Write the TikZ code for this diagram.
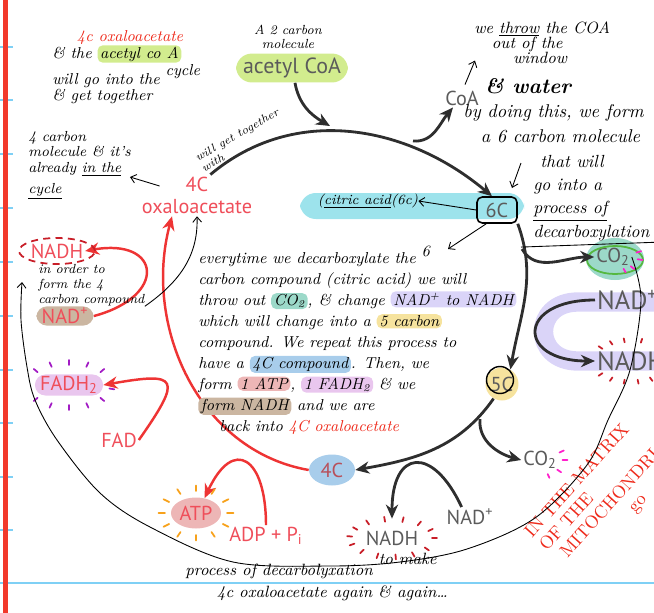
\documentclass[tikz,border=0pt]{standalone}
\usepackage{fontspec}
\newfontfamily\lblfont{PT Sans}
\usetikzlibrary{positioning,calc,shapes.geometric,arrows.meta}

\definecolor{lblred}{HTML}{EF4E5A}
\definecolor{arrred}{HTML}{EE3434}
\definecolor{lblgray}{HTML}{5B5B5B}
\definecolor{arrblk}{HTML}{2E2E2E}
\definecolor{hred}{HTML}{EE2A1B}
\definecolor{c4red}{HTML}{B8505A}
\definecolor{hlgreen}{HTML}{D2EC8E}
\definecolor{hlcyan}{HTML}{9DE3EC}
\definecolor{hlteal}{HTML}{9CD9C9}
\definecolor{hllav}{HTML}{DAD4F8}
\definecolor{hlyel}{HTML}{F6E39E}
\definecolor{hlblue}{HTML}{A8CDEB}
\definecolor{hlpink}{HTML}{EDB6B6}
\definecolor{hlorchid}{HTML}{E9C6EE}
\definecolor{hltan}{HTML}{CBB6A1}
\definecolor{dashmag}{HTML}{FF1FCB}
\definecolor{dashpur}{HTML}{A21CC4}
\definecolor{dashorg}{HTML}{F7A11A}
\definecolor{dashred}{HTML}{C81E28}
\definecolor{ringgreen}{HTML}{55B840}
\definecolor{pagered}{HTML}{F2392B}
\definecolor{pageblue}{HTML}{7FD0F5}

% marker pen highlight inside handwritten lines
\newcommand{\hilite}[2]{\tikz[baseline=(hl.base)]\node[fill=#1,rounded corners=3pt,inner xsep=1.5pt,inner ysep=0.8pt](hl){#2};}

\begin{document}
\begin{tikzpicture}[
    x=0.02cm, y=-0.02cm,
    cyc/.style={draw=arrblk, line width=1.6pt, -{Stealth[length=8pt,width=7pt]}},
    redcyc/.style={draw=arrred, line width=1.4pt, -{Stealth[length=8pt,width=7pt]}},
    hand/.style={draw=black, line width=0.5pt},
    handarr/.style={hand, -{Straight Barb[length=3pt,width=5pt]}},
    lbl/.style={font=\lblfont\fontsize{11.5}{13}\selectfont, text=lblgray, inner sep=1pt},
    biglbl/.style={lbl, font=\lblfont\fontsize{15}{17}\selectfont},
    redlbl/.style={lbl, text=lblred},
    note/.style={font=\itshape\fontsize{7.5}{8.5}\selectfont, align=left, inner sep=0pt},
    burst/.style={line width=1pt, line cap=round}
  ]
  \useasboundingbox (0,0) rectangle (654,613);

  % notebook page
  \foreach \ty in {47,100,154,208,262,316,370,423,477,530}
    \draw[pageblue, line width=0.9pt] (0,\ty) -- (13,\ty);
  \draw[pageblue, line width=0.9pt] (0,583) -- (654,583);
  \fill[pagered] (3,0) rectangle (8,613);

  % highlighter marks
  \fill[hlcyan, rounded corners=9pt] (300,193) rectangle (524,219);
  \draw[hllav, line width=11pt, line cap=round] (665,302) -- (578,302) to[out=180,in=180,looseness=2] (578,361) -- (665,361);
  \fill[hlteal] (615,259) ellipse [x radius=0.58cm, y radius=0.42cm];

  % printed labels
  \node[lbl, fill=hlgreen, rounded corners=9pt, inner xsep=4pt, inner ysep=2.5pt, font=\lblfont\fontsize{12.5}{14}\selectfont] (acoa) at (292,68) {acetyl CoA};
  \node[lbl] (coa) at (462,98) {CoA};
  \node[redlbl] (oxa4) at (197,184) {4C};
  \node[redlbl] (oxa) at (197,207) {oxaloacetate};
  \node[lbl, draw=black, line width=0.9pt, rounded corners=3pt, minimum width=0.8cm, minimum height=0.52cm] (c6) at (497,210) {6C};
  \node[lbl, circle, fill=hlyel, minimum size=0.66cm, inner sep=0pt] (c5) at (502,384) {5C};
  \draw[hand, line width=0.8pt] (500,380) circle [radius=0.27cm];
  \node[lbl, ellipse, fill=hlblue, minimum width=0.92cm, minimum height=0.62cm, inner sep=0pt, text=c4red] (c4) at (332,470) {4C};
  \node[lbl] (co2a) at (613,257) {CO\textsubscript{2}};
  \draw[ringgreen, line width=1pt] (615,260) ellipse [x radius=0.56cm, y radius=0.28cm];
  \node[biglbl, anchor=west] (nad1) at (595,300) {NAD\textsuperscript{+}};
  \node[biglbl, anchor=west] (nadh1) at (595,361) {NADH};
  \node[lbl] (co2b) at (540,460) {CO\textsubscript{2}};
  \node[lbl] (nad2) at (470,517) {NAD\textsuperscript{+}};
  \node[lbl] (nadh2) at (392,538) {NADH};
  \node[redlbl] (nadh3) at (57,251) {NADH};
  \node[redlbl, fill=hltan, rounded corners=6pt, inner xsep=3pt] (nad3) at (65,316) {NAD\textsuperscript{+}};
  \node[redlbl, fill=hlorchid, rounded corners=6pt, inner xsep=3pt] (fadh) at (69,385) {FADH\textsubscript{2}};
  \node[redlbl] (fad) at (119,440) {FAD};
  \node[redlbl, ellipse, fill=hlpink, inner sep=0pt, minimum width=1cm, minimum height=0.62cm] (atp) at (196,513) {ATP};
  \node[redlbl] (adp) at (266,536) {ADP + P\textsubscript{i}};

  % the cycle
  \coordinate (topin) at (330,126);
  \coordinate (coabr) at (413,141);
  \coordinate (br1) at (522,249);
  \coordinate (br2) at (480,419);
  \draw[cyc] (oxa4.north east) to[out=40,in=140] (c6.110);
  \draw[cyc] (c6.south east) to[out=-70,in=80] (c5.60);
  \draw[cyc] (c5.-120) to[out=-125,in=10] (c4.east);
  \draw[cyc] ([xshift=0.06cm]acoa.south) to[out=-80,in=150] (topin);
  \draw[cyc] (coabr) to[out=-5,in=-130] ([xshift=-0.18cm]coa.south);
  \draw[cyc] (br1) to[out=-60,in=180] (co2a.west);
  \draw[cyc] (nad1.west) to[out=180,in=180,looseness=3.3] (nadh1.west);
  \draw[cyc] (br2) to[out=-95,in=165] (co2b.west);
  \draw[cyc] (nad2.130) to[out=115,in=90,looseness=2.5] ([yshift=0.2cm]nadh2.north);
  \draw[redcyc] (c4.west) to[out=170,in=-105] ([xshift=-0.5cm]oxa.south);
  \draw[redcyc] (nad3.east) to[out=15,in=10,looseness=3] (nadh3.east);
  \draw[redcyc] (fad.east) to[out=55,in=10,looseness=3] (fadh.east);
  \draw[redcyc] (adp.north) to[out=90,in=65,looseness=2.6] (atp.60);

  % pen marks round the products
  \foreach \a in {0,30,...,330}
    \draw[burst, dashorg] ($(atp)+(\a:0.62cm and 0.44cm)$) -- ($(atp)+(\a:0.75cm and 0.55cm)$);
  \draw[dashred, line width=1pt, dash pattern=on 4pt off 3pt] (nadh3) ellipse [x radius=0.76cm, y radius=0.26cm];
  \foreach \a in {40,65,90,115,140,220,245,270,295,320,-10}
    \draw[burst, dashpur] ($(fadh)+(\a:0.82cm and 0.4cm)$) -- ($(fadh)+(\a:0.92cm and 0.5cm)$);
  \foreach \a in {0,25,...,335}
    \draw[burst, dashred] ($(nadh2)+(\a:0.8cm and 0.33cm)$) -- ($(nadh2)+(\a:0.9cm and 0.43cm)$);
  \foreach \a in {30,0,-40,-70}
    \draw[burst, dashmag] ($(co2b)+(\a:0.45cm and 0.3cm)$) -- ($(co2b)+(\a:0.55cm and 0.38cm)$);
  \foreach \a in {20,-10,-45,-65}
    \draw[burst, dashmag] ($(co2a)+(\a:0.5cm and 0.26cm)$) -- ($(co2a)+(\a:0.6cm and 0.34cm)$);
  \foreach \a in {75,100,120,140,220,240,260,280,300,320}
    \draw[burst, dashred] ($(nadh1.center)+(\a:0.75cm and 0.38cm)$) -- ($(nadh1.center)+(\a:0.85cm and 0.46cm)$);

  % handwritten notes
  \node[note, align=center, font=\itshape\fontsize{7.5}{8}\selectfont] (twoc) at (288,37) {A 2 carbon\\molecule};
  \node[note, anchor=north west, font=\itshape\fontsize{9}{9.5}\selectfont] (accnote) at (52,30) {\hspace*{14pt}{\color{hred}4c oxaloacetate}\\ \& the \hilite{hlgreen}{acetyl co A}\\ will go into the \raisebox{5pt}{cycle}\\ \& get together};
  \node[note, rotate=30, font=\itshape\fontsize{6.5}{7}\selectfont] (gettog) at (240,140) {will get together\\with};
  \node[note, anchor=north west, font=\itshape\fontsize{8.3}{8.8}\selectfont] (fourc) at (28,131) {4 carbon\\molecule \& it's\\already \underline{in the}\\[3pt]\underline{cycle}};
  \coordinate (fourtip) at (130,177);
  \draw[handarr] ([shift={(-24,2)}]oxa4.west) -- (fourtip);
  \node[note, anchor=north west, font=\itshape\fontsize{9.3}{8.8}\selectfont] (throw) at (474,21) {we \underline{throw} the COA\\\hspace*{10pt}out of the\\\hspace*{22pt}window};
  \draw[handarr] ([shift={(3,-4)}]coa.north) -- ++(10,-24);
  \node[note, font=\bfseries\itshape\fontsize{12}{13}\selectfont] (water) at (528,86) {\& water};
  \node[note, anchor=north west, font=\itshape\fontsize{10.5}{14.2}\selectfont] (doing) at (463,104) {by doing this, we form\\\hspace*{10pt}a 6 carbon molecule};
  \coordinate (downtip) at (512,188);
  \draw[handarr] (521,163) -- (downtip);
  \node[note, anchor=north west, font=\itshape\fontsize{10}{13.2}\selectfont] (that) at (533,155) {\hspace*{4pt}that will\\go into a\\\underline{process of}\\decarboxylation};
  \draw[hand] ([shift={(-12,6)}]that.south west) -- ++(140,-5);
  \node[note, font=\itshape\fontsize{8}{9}\selectfont] (cit) at (368,201) {(\underline{citric acid}(6c)};
  \draw[handarr] (c6.west) -- (cit.east);
  \coordinate (sixtip) at (448,249);
  \draw[handarr] ([xshift=0.2cm]c6.south west) -- (sixtip);
  \node[note, anchor=north west, font=\itshape\fontsize{9}{11.9}\selectfont] (para) at (198,246) {everytime we decarboxylate the \raisebox{4pt}{6}\\
    carbon compound (citric acid) we will\\
    throw out \hilite{hlteal}{CO\textsubscript{2}}, \& change \hilite{hllav}{NAD\textsuperscript{+} to NADH}\\
    which will change into a \hilite{hlyel}{5 carbon}\\
    compound. We repeat this process to\\
    have a \hilite{hlblue}{4C compound}. Then, we\\
    form \hilite{hlpink}{1 ATP}, \hilite{hlorchid}{1 FADH\textsubscript{2}} \& we\\
    \hilite{hltan}{form NADH} and we are\\
    \hspace*{12pt}back into {\color{hred}4C oxaloacetate}};
  \node[note, anchor=north west, font=\itshape\fontsize{7.5}{8.5}\selectfont] (inorder) at (38,264) {in order to\\form the 4\\carbon compound};
  \draw[handarr] (inorder.south east) to[out=35,in=-88] (oxa.south);
  \node[note, anchor=north west, font=\itshape\fontsize{9.3}{12.5}\selectfont] (bottom) at (185,553) {process of decarbolyxation \raisebox{6pt}{to make}\\\hspace*{18pt}4c oxaloacetate again \& again\dots};
  \node[note, rotate=48, anchor=north west, text=hred, font=\upshape\fontsize{10.3}{11.3}\selectfont] (matrix) at (522,530) {IN THE MATRIX\\OF THE\\\hspace*{5pt}MITOCHONDRIA\\\hspace*{50pt}go};

  % the path round the whole matrix
  \draw[handarr] plot[smooth, tension=0.55] coordinates {(co2a.east) (641,300) (630,370) (608,420) (587,465) (535,518) (467,549) (400,562) (330,566) (233,562) (150,527) (100,493) (57,440) (35,400) (27,367) (21,320) (22,282)};
\end{tikzpicture}
\end{document}
